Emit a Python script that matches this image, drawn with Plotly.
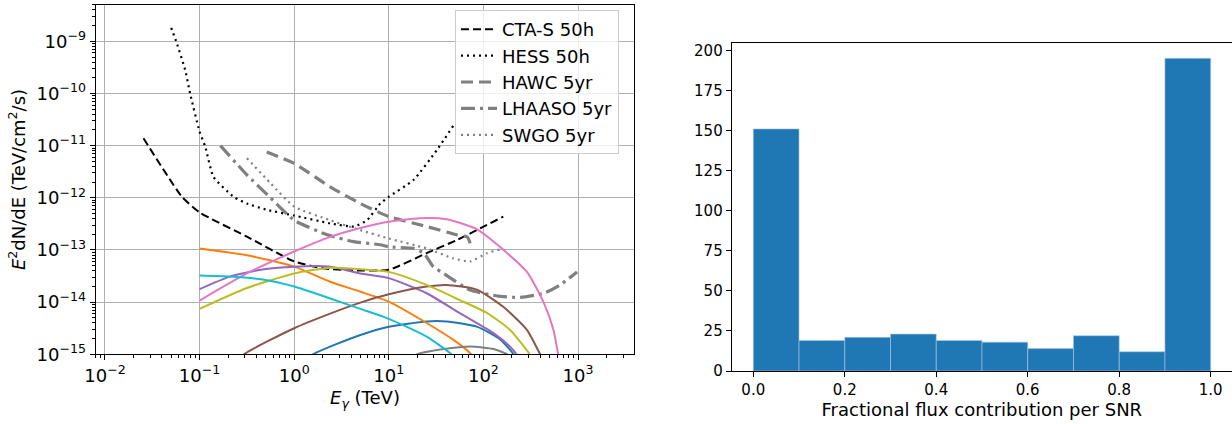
import numpy as np
import plotly.graph_objects as go

# ---------------- data (log10 E [TeV], log10 E^2 dN/dE [TeV/cm2/s]) ----------------
cta_logE = [-1.593, -1.187, -1.0, -0.5, 0.0, 0.3, 0.62, 1.0, 1.4, 1.72, 1.93, 2.21]
cta_logF = [-10.86, -11.98, -12.28, -12.745, -13.22, -13.35, -13.39, -13.38, -13.06, -12.81, -12.62, -12.36]

hess_logE = [-1.30, -1.24, -1.152, -1.10, -1.0, -0.94, -0.853, -0.64, -0.5, -0.29, 0.0, 0.38, 0.63, 0.77, 0.91, 1.0, 1.26, 1.51, 1.685]
hess_logF = [-8.74, -9.04, -9.55, -10.0, -10.73, -11.02, -11.60, -11.98, -12.11, -12.23, -12.34, -12.49, -12.55, -12.43, -12.11, -11.98, -11.66, -11.08, -10.61]

hawc_logE = [-0.29, 0.0, 0.38, 0.70, 1.0, 1.40, 1.72, 1.83, 1.86]
hawc_logF = [-11.12, -11.34, -11.79, -12.11, -12.36, -12.55, -12.71, -12.75, -12.87]

lhaaso_logE = [-0.78, -0.5, -0.25, 0.0, 0.35, 0.63, 0.91, 1.0, 1.26, 1.37, 1.47, 1.58, 1.86, 2.18, 2.39, 2.64, 2.81, 2.99]
lhaaso_logF = [-11.0, -11.56, -12.0, -12.43, -12.71, -12.84, -12.90, -12.94, -12.97, -13.06, -13.32, -13.45, -13.77, -13.89, -13.91, -13.83, -13.67, -13.42]

swgo_logE = [-0.5, -0.25, 0.0, 0.38, 0.70, 1.0, 1.40, 1.68, 1.86, 2.04, 2.18, 2.27]
swgo_logF = [-11.24, -11.72, -12.17, -12.43, -12.62, -12.78, -12.97, -13.16, -13.22, -13.06, -12.99, -13.03]

# model spectra (tab10 colours)
blue_logE = [0.0, 0.2, 0.70, 1.0, 1.40, 1.61, 1.93, 2.18, 2.32, 2.35]
blue_logF = [-15.3, -15.0, -14.63, -14.47, -14.37, -14.37, -14.47, -14.72, -15.0, -15.1]
orange_logE = [-1.0, -0.5, 0.0, 0.38, 0.70, 1.0, 1.40, 1.68, 1.86, 1.95]
orange_logF = [-12.97, -13.10, -13.32, -13.61, -13.80, -13.99, -14.40, -14.72, -14.98, -15.2]
purple_logE = [-1.0, -0.68, -0.32, 0.0, 0.38, 0.70, 1.0, 1.40, 1.75, 2.11, 2.28, 2.35, 2.38]
purple_logF = [-13.75, -13.51, -13.37, -13.32, -13.32, -13.45, -13.54, -13.83, -14.21, -14.60, -14.85, -15.0, -15.1]
brown_logE = [-0.7, -0.53, 0.0, 0.38, 0.70, 1.0, 1.40, 1.61, 1.93, 2.21, 2.46, 2.60, 2.63]
brown_logF = [-15.3, -15.0, -14.50, -14.22, -14.01, -13.85, -13.70, -13.67, -13.76, -14.09, -14.53, -15.0, -15.1]
pink_logE = [-1.0, -0.5, 0.0, 0.38, 0.70, 1.0, 1.33, 1.61, 1.93, 2.18, 2.46, 2.64, 2.74, 2.79, 2.81]
pink_logF = [-13.97, -13.45, -13.03, -12.75, -12.58, -12.46, -12.39, -12.41, -12.60, -12.95, -13.42, -14.02, -14.53, -15.0, -15.2]
gray_logE = [1.2, 1.30, 1.58, 1.86, 2.11, 2.25, 2.3]
gray_logF = [-15.1, -15.0, -14.90, -14.85, -14.90, -15.0, -15.1]
olive_logE = [-1.0, -0.5, 0.0, 0.38, 0.70, 1.0, 1.40, 1.75, 2.04, 2.28, 2.49, 2.52]
olive_logF = [-14.13, -13.73, -13.45, -13.34, -13.37, -13.42, -13.67, -13.96, -14.21, -14.53, -15.0, -15.1]
cyan_logE = [-1.0, -0.68, -0.32, 0.0, 0.38, 0.70, 1.0, 1.40, 1.65, 1.72]
cyan_logF = [-13.49, -13.51, -13.57, -13.70, -13.93, -14.13, -14.32, -14.66, -14.98, -15.1]

# histogram
hist_edges = [0.0, 0.1, 0.2, 0.3, 0.4, 0.5, 0.6, 0.7, 0.8, 0.9, 1.0]
hist_counts = [151, 19, 21, 23, 19, 18, 14, 22, 12, 195]

x_ticks_log = [-2, -1, 0, 1, 2, 3]
y_ticks_log = [-15, -14, -13, -12, -11, -10, -9]

# ---------------- figure ----------------
W, H = 1232, 424
FONT = "DejaVu Sans"
fig = go.Figure()

def p(v):
    return np.power(10.0, np.asarray(v, dtype=float))

instruments = [
    ("CTA-S 50h", cta_logE, cta_logF, "black", 2.0, "8px,4px"),
    ("HESS 50h", hess_logE, hess_logF, "black", 2.2, "2px,4px"),
    ("HAWC 5yr", hawc_logE, hawc_logF, "#808080", 3.2, "12px,6px"),
    ("LHAASO 5yr", lhaaso_logE, lhaaso_logF, "#808080", 3.2, "14px,5px,3px,5px"),
    ("SWGO 5yr", swgo_logE, swgo_logF, "#808080", 2.2, "2px,4px"),
]

models = [
    ("#1f77b4", blue_logE, blue_logF),
    ("#ff7f0e", orange_logE, orange_logF),
    ("#9467bd", purple_logE, purple_logF),
    ("#8c564b", brown_logE, brown_logF),
    ("#e377c2", pink_logE, pink_logF),
    ("#7f7f7f", gray_logE, gray_logF),
    ("#bcbd22", olive_logE, olive_logF),
    ("#17becf", cyan_logE, cyan_logF),
]

for name, le, lf, col, lw, dash in instruments:
    fig.add_trace(go.Scatter(x=p(le), y=p(lf), mode="lines", name=name,
                             line=dict(color=col, width=lw, dash=dash, shape="spline", smoothing=0.5),
                             xaxis="x", yaxis="y", showlegend=True))

for col, le, lf in models:
    fig.add_trace(go.Scatter(x=p(le), y=p(lf), mode="lines", showlegend=False,
                             line=dict(color=col, width=2, shape="spline", smoothing=0.6),
                             xaxis="x", yaxis="y"))

centers = [(hist_edges[i] + hist_edges[i + 1]) / 2 for i in range(len(hist_counts))]
widths = [hist_edges[i + 1] - hist_edges[i] for i in range(len(hist_counts))]
fig.add_trace(go.Bar(x=centers, y=hist_counts, width=widths, marker=dict(color="#1f77b4",
                     line=dict(width=0.6, color="#a9c8e3")), xaxis="x2", yaxis="y2", showlegend=False))

minor_x = [k * 10.0 ** d for d in range(-3, 4) for k in range(2, 10)]
minor_y = [k * 10.0 ** d for d in range(-16, -8) for k in range(2, 10)]

def sup(n):
    return "10<sup>%s</sup>" % (str(n).replace("-", "\u2212"))

L_x0, L_x1 = 95.7 / W, 634.3 / W
L_y0, L_y1 = 1 - 354.3 / H, 1 - 4.7 / H
R_x0, R_x1 = 731.7 / W, 1.0
R_y0, R_y1 = 1 - 371 / H, 1 - 42.7 / H

fig.update_layout(
    width=W, height=H,
    margin=dict(l=0, r=0, t=0, b=0),
    paper_bgcolor="white", plot_bgcolor="white",
    font=dict(family=FONT, color="black"),
    xaxis=dict(type="log", domain=[L_x0, L_x1], range=[-2.098, 3.595], anchor="y",
               tickmode="array", tickvals=[10.0 ** v for v in x_ticks_log],
               ticktext=[sup(v) for v in x_ticks_log],
               ticks="outside", ticklen=5, tickwidth=1, tickcolor="black",
               showgrid=True, gridcolor="#b0b0b0", gridwidth=1,
               showline=True, linecolor="black", linewidth=1, mirror=True,
               zeroline=False, automargin=False,
               tickfont=dict(size=18),
               minor=dict(tickmode="array", tickvals=minor_x, ticks="outside", ticklen=3,
                          tickcolor="black", showgrid=False),
               title=dict(text="<i>E<sub>\u03b3</sub></i> (TeV)", font=dict(size=18), standoff=6)),
    yaxis=dict(type="log", domain=[L_y0, L_y1], range=[-15, -8.298], anchor="x",
               tickmode="array", tickvals=[10.0 ** v for v in y_ticks_log],
               ticktext=[sup(v) for v in y_ticks_log],
               ticks="outside", ticklen=5, tickwidth=1, tickcolor="black",
               showgrid=True, gridcolor="#b0b0b0", gridwidth=1,
               showline=True, linecolor="black", linewidth=1, mirror=True,
               zeroline=False, automargin=False,
               tickfont=dict(size=18),
               minor=dict(tickmode="array", tickvals=minor_y, ticks="outside", ticklen=3,
                          tickcolor="black", showgrid=False),
               title=dict(text="<i>E</i><sup>2</sup>dN/dE (TeV/cm<sup>2</sup>/s)", font=dict(size=18), standoff=6)),
    xaxis2=dict(domain=[R_x0, R_x1], range=[-0.0472, 1.0466], anchor="y2",
                tickmode="array", tickvals=[0, 0.2, 0.4, 0.6, 0.8, 1.0],
                ticktext=["0.0", "0.2", "0.4", "0.6", "0.8", "1.0"],
                ticks="outside", ticklen=5, tickcolor="black",
                showgrid=False, showline=True, linecolor="black", linewidth=1, mirror=True,
                zeroline=False, automargin=False, tickfont=dict(size=15),
                title=dict(text="Fractional flux contribution per SNR", font=dict(size=18), standoff=5)),
    yaxis2=dict(domain=[R_y0, R_y1], range=[0, 204.75], anchor="x2",
                tickmode="array", tickvals=[0, 25, 50, 75, 100, 125, 150, 175, 200],
                ticks="outside", ticklen=5, tickcolor="black",
                showgrid=False, showline=True, linecolor="black", linewidth=1, mirror=False,
                zeroline=False, automargin=False, tickfont=dict(size=15)),
    legend=dict(x=455 / W, y=1 - 10 / H, xanchor="left", yanchor="top",
                bgcolor="rgba(255,255,255,0.8)", bordercolor="#cccccc", borderwidth=1,
                font=dict(size=18, family=FONT), itemwidth=36, tracegroupgap=0),
    showlegend=True,
)

fig.write_html("out.html", config={"displayModeBar": False},
               post_script="document.body.style.margin='0px';document.body.style.overflow='hidden';")
